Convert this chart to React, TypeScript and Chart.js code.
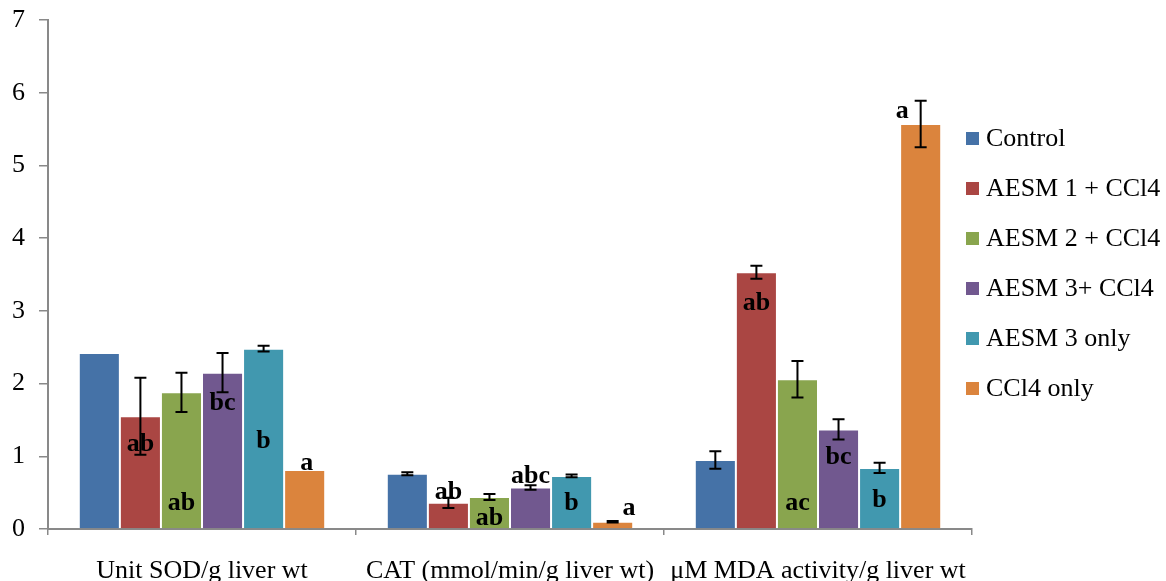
import React, { useEffect, useRef } from "react";
import { Chart, registerables } from "chart.js";

Chart.register(...registerables);

const categories = ["Unit SOD/g liver wt", "CAT (mmol/min/g liver wt)", "μM MDA activity/g liver wt"];
const seriesNames = ["Control", "AESM 1 + CCl4", "AESM 2 + CCl4", "AESM 3+ CCl4", "AESM 3 only", "CCl4 only"];
const seriesColors = ["#4572A7", "#AA4643", "#89A54E", "#71588F", "#4198AF", "#DB843D"];

const controlVals = [2.42, 0.76, 0.95];
const aesm1Vals = [1.55, 0.36, 3.53];
const aesm2Vals = [1.88, 0.44, 2.06];
const aesm3Vals = [2.15, 0.57, 1.37];
const aesm3OnlyVals = [2.48, 0.73, 0.84];
const ccl4Vals = [0.81, 0.1, 5.57];

const controlErr = [0, 0.02, 0.12];
const aesm1Err = [0.53, 0.07, 0.09];
const aesm2Err = [0.27, 0.04, 0.25];
const aesm3Err = [0.27, 0.03, 0.14];
const aesm3OnlyErr = [0.04, 0.02, 0.07];
const ccl4Err = [0, 0.01, 0.32];

const controlLetters = ["", "", ""];
const aesm1Letters = ["ab", "ab", "ab"];
const aesm2Letters = ["ab", "ab", "ac"];
const aesm3Letters = ["bc", "abc", "bc"];
const aesm3OnlyLetters = ["b", "b", "b"];
const ccl4Letters = ["a", "a", "a"];

// letter anchor heights (in data units) and horizontal nudges (in bar widths)
const controlLetterAt = [0, 0, 0];
const aesm1LetterAt = [1.16, 0.5, 3.11];
const aesm2LetterAt = [0.36, 0.15, 0.36];
const aesm3LetterAt = [1.73, 0.72, 0.98];
const aesm3OnlyLetterAt = [1.2, 0.36, 0.39];
const ccl4LetterAt = [0.91, 0.29, 5.75];
const ccl4LetterShift = [0.05, 0.4, -0.45];
const noShift = [0, 0, 0];

const yTicks = [0, 1, 2, 3, 4, 5, 6, 7];

const seriesValues = [controlVals, aesm1Vals, aesm2Vals, aesm3Vals, aesm3OnlyVals, ccl4Vals];
const seriesErrors = [controlErr, aesm1Err, aesm2Err, aesm3Err, aesm3OnlyErr, ccl4Err];
const seriesLetters = [controlLetters, aesm1Letters, aesm2Letters, aesm3Letters, aesm3OnlyLetters, ccl4Letters];
const seriesLetterAt = [controlLetterAt, aesm1LetterAt, aesm2LetterAt, aesm3LetterAt, aesm3OnlyLetterAt, ccl4LetterAt];
const seriesLetterShift = [noShift, noShift, noShift, noShift, noShift, ccl4LetterShift];

const FONT = "'Liberation Serif', 'Times New Roman', serif";

const overlayPlugin = {
  id: "overlay",
  afterDatasetsDraw(chart: any) {
    const ctx = chart.ctx;
    const yScale = chart.scales.y;
    ctx.save();
    // error bars
    ctx.strokeStyle = "#000";
    ctx.lineWidth = 2;
    chart.data.datasets.forEach((ds: any, di: number) => {
      const meta = chart.getDatasetMeta(di);
      meta.data.forEach((bar: any, i: number) => {
        const e = seriesErrors[di][i];
        if (!e) return;
        const v = ds.data[i];
        const yTop = yScale.getPixelForValue(v + e);
        const yBot = yScale.getPixelForValue(v - e);
        const x = bar.x;
        const cap = 6;
        ctx.beginPath();
        ctx.moveTo(x, yTop);
        ctx.lineTo(x, yBot);
        ctx.moveTo(x - cap, yTop);
        ctx.lineTo(x + cap, yTop);
        ctx.moveTo(x - cap, yBot);
        ctx.lineTo(x + cap, yBot);
        ctx.stroke();
      });
    });
    // significance letters
    ctx.fillStyle = "#000";
    ctx.font = `bold 26px ${FONT}`;
    ctx.textAlign = "center";
    ctx.textBaseline = "middle";
    chart.data.datasets.forEach((ds: any, di: number) => {
      const meta = chart.getDatasetMeta(di);
      meta.data.forEach((bar: any, i: number) => {
        const t = seriesLetters[di][i];
        if (!t) return;
        const y = yScale.getPixelForValue(seriesLetterAt[di][i]);
        const x = bar.x + seriesLetterShift[di][i] * bar.width;
        ctx.fillText(t, x, y);
      });
    });
    ctx.restore();
  },
  afterDraw(chart: any) {
    const ctx = chart.ctx;
    ctx.save();
    ctx.font = `26px ${FONT}`;
    ctx.textBaseline = "middle";
    ctx.textAlign = "left";
    const x0 = 966;
    const yStart = 138;
    const step = 50;
    chart.data.datasets.forEach((ds: any, di: number) => {
      const y = yStart + di * step;
      ctx.fillStyle = ds.backgroundColor;
      ctx.fillRect(x0, y - 6, 13, 13);
      ctx.fillStyle = "#000";
      ctx.fillText(ds.label, x0 + 20, y + 1);
    });
    ctx.restore();
  },
};

export default function App() {
  const canvasRef = useRef<HTMLCanvasElement | null>(null);

  useEffect(() => {
    if (!canvasRef.current) return;
    const chart = new Chart(canvasRef.current, {
      type: "bar",
      data: {
        labels: categories,
        datasets: seriesNames.map((name, di) => ({
          label: name,
          data: seriesValues[di],
          backgroundColor: seriesColors[di],
          borderColor: "rgba(255,255,255,0.55)",
          borderWidth: 1,
          categoryPercentage: 0.8,
          barPercentage: 1,
        })),
      },
      options: {
        animation: false,
        responsive: false,
        maintainAspectRatio: false,
        layout: { padding: { top: 20, right: 194, left: 0, bottom: 0 } },
        plugins: {
          legend: { display: false },
          tooltip: { enabled: false },
        },
        scales: {
          x: {
            grid: {
              offset: true,
              drawOnChartArea: false,
              drawTicks: true,
              tickLength: 6,
              color: "#898989",
              lineWidth: 1.5,
            },
            border: { color: "#898989", width: 2 },
            ticks: {
              color: "#000",
              font: { family: FONT, size: 26 },
              padding: 21,
              maxRotation: 0,
              autoSkip: false,
            },
            afterFit(scale: any) {
              scale.height = 52;
              scale.paddingLeft = 0;
              scale.paddingRight = 0;
            },
          },
          y: {
            min: 0,
            max: 7,
            afterBuildTicks(scale: any) {
              scale.ticks = yTicks.map((v) => ({ value: v }));
            },
            grid: {
              drawOnChartArea: false,
              drawTicks: true,
              tickLength: 9,
              color: "#898989",
              lineWidth: 1.5,
            },
            border: { color: "#898989", width: 2 },
            ticks: {
              color: "#000",
              font: { family: FONT, size: 26 },
              padding: 14,
            },
            afterFit(scale: any) {
              scale.width = 48;
              scale.paddingTop = 0;
              scale.paddingBottom = 0;
            },
          },
        },
      },
      plugins: [overlayPlugin],
    });
    return () => chart.destroy();
  }, []);

  return (
    <div style={{ position: "absolute", left: 0, top: 0, width: 1166, height: 581, background: "#fff" }}>
      <canvas ref={canvasRef} width={1166} height={581} style={{ display: "block" }} />
    </div>
  );
}
